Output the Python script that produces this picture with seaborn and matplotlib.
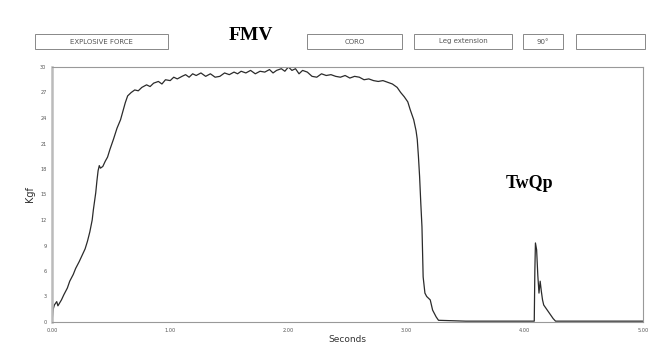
import matplotlib
matplotlib.use("Agg")
import matplotlib.pyplot as plt
from matplotlib.patches import Rectangle
import seaborn as sns
import pandas as pd

# ---- data ----
seconds = [0.00, 0.01, 0.02, 0.04, 0.05, 0.08, 0.10, 0.13, 0.15, 0.18, 0.20, 0.23,
           0.26, 0.28, 0.30, 0.32, 0.34, 0.35, 0.37, 0.38, 0.39, 0.40, 0.41, 0.43,
           0.45, 0.47, 0.49, 0.52, 0.55, 0.58, 0.60, 0.62, 0.64, 0.67, 0.70, 0.73,
           0.76, 0.80, 0.83, 0.86, 0.90, 0.93, 0.96, 1.00, 1.03, 1.06, 1.10, 1.13,
           1.16, 1.19, 1.22, 1.26, 1.30, 1.34, 1.38, 1.42, 1.46, 1.50, 1.54, 1.57,
           1.60, 1.64, 1.68, 1.72, 1.76, 1.80, 1.84, 1.87, 1.90, 1.94, 1.97, 2.00,
           2.03, 2.06, 2.09, 2.12, 2.16, 2.20, 2.24, 2.28, 2.32, 2.36, 2.40, 2.44,
           2.48, 2.52, 2.56, 2.60, 2.64, 2.68, 2.72, 2.76, 2.80, 2.84, 2.88, 2.92,
           2.95, 2.98, 3.01, 3.03, 3.06, 3.08, 3.09, 3.10, 3.11, 3.12, 3.13, 3.14,
           3.155, 3.17, 3.20, 3.22, 3.25, 3.27, 3.50, 3.80, 4.00, 4.08, 4.085, 4.09,
           4.10, 4.11, 4.12, 4.13, 4.14, 4.15, 4.16, 4.18, 4.20, 4.22, 4.24, 4.26,
           4.50, 4.80, 5.00]
kgf = [0.0, 1.5, 2.0, 2.4, 1.9, 2.6, 3.2, 4.0, 4.8, 5.6, 6.3, 7.1,
       8.0, 8.6, 9.5, 10.6, 12.0, 13.2, 15.2, 16.6, 17.8, 18.4, 18.1, 18.3,
       18.9, 19.4, 20.3, 21.5, 22.8, 23.8, 24.8, 25.8, 26.6, 27.0, 27.3, 27.2,
       27.6, 27.9, 27.7, 28.1, 28.3, 28.0, 28.5, 28.4, 28.8, 28.6, 28.9, 29.1,
       28.8, 29.2, 29.0, 29.3, 28.9, 29.2, 28.8, 28.9, 29.3, 29.1, 29.4, 29.2,
       29.5, 29.3, 29.6, 29.2, 29.5, 29.4, 29.7, 29.3, 29.6, 29.8, 29.5, 30.0,
       29.6, 29.8, 29.2, 29.6, 29.4, 28.9, 28.8, 29.2, 29.0, 29.1, 28.9, 28.8,
       29.0, 28.7, 28.9, 28.8, 28.5, 28.6, 28.4, 28.3, 28.4, 28.2, 28.0, 27.6,
       27.0, 26.5, 25.9, 25.0, 23.8, 22.5, 21.5, 19.5, 17.1, 14.0, 11.2, 5.3,
       3.4, 3.0, 2.6, 1.4, 0.6, 0.2, 0.1, 0.1, 0.1, 0.1, 6.0, 9.3,
       8.5, 5.5, 3.4, 4.8, 3.6, 2.6, 2.0, 1.6, 1.2, 0.8, 0.4, 0.1,
       0.1, 0.1, 0.1]

x_ticks = [0, 1, 2, 3, 4, 5]
x_tick_labels = ["0.00", "1.00", "2.00", "3.00", "4.00", "5.00"]
y_ticks = [0, 3, 6, 9, 12, 15, 18, 21, 24, 27, 30]
header_labels = ["EXPLOSIVE FORCE", "CORO", "Leg extension", "90°", ""]

df = pd.DataFrame({"Seconds": seconds, "Kgf": kgf})

sns.set_style("white")
plt.rcParams["font.family"] = ["DejaVu Sans"]

W, H = 657, 347
fig = plt.figure(figsize=(W / 100, H / 100), dpi=100)
ax = fig.add_axes([52 / W, 1 - 322 / H, (643 - 52) / W, (322 - 67) / H])

sns.lineplot(data=df, x="Seconds", y="Kgf", ax=ax, color="#2b2b2b", linewidth=0.9,
             estimator=None, sort=False)

ax.set_xlim(0, 5)
ax.set_ylim(0, 30)
ax.set_xticks(x_ticks)
ax.set_xticklabels(x_tick_labels)
ax.set_yticks(y_ticks)
ax.set_yticklabels([str(v) for v in y_ticks])
ax.tick_params(axis="both", labelsize=3.6, colors="#555555", length=2, width=0.5,
               pad=2, direction="out")
ax.set_xlabel("Seconds", fontsize=6.5, color="#333333", labelpad=2)
ax.set_ylabel("Kgf", fontsize=7, color="#333333", labelpad=4)
for side, sp in ax.spines.items():
    sp.set_color("#999999")
    sp.set_linewidth(0.8)
ax.spines["left"].set_linewidth(1.8)
ax.spines["left"].set_color("#bbbbbb")

# header boxes (pixel extents)
boxes = [(35, 168), (307, 402), (414, 512), (523, 563), (576, 645)]
for (x0, x1), lab in zip(boxes, header_labels):
    y0, y1 = 34, 49
    fig.patches.append(Rectangle((x0 / W, 1 - y1 / H), (x1 - x0) / W, (y1 - y0) / H,
                                 transform=fig.transFigure, fill=False,
                                 edgecolor="#888888", linewidth=0.7))
    fig.text((x0 + x1) / 2 / W, 1 - (y0 + y1) / 2 / H, lab, ha="center", va="center",
             fontsize=5, color="#555555")

fig.text(251 / W, 1 - 36 / H, "FMV", ha="center", va="center", fontsize=14,
         fontweight="bold", family="Liberation Serif", color="black")
fig.text(530 / W, 1 - 183 / H, "TwQp", ha="center", va="center", fontsize=13,
         fontweight="bold", family="Liberation Serif", color="black")

fig.savefig("out.png", dpi=100, facecolor="white")
